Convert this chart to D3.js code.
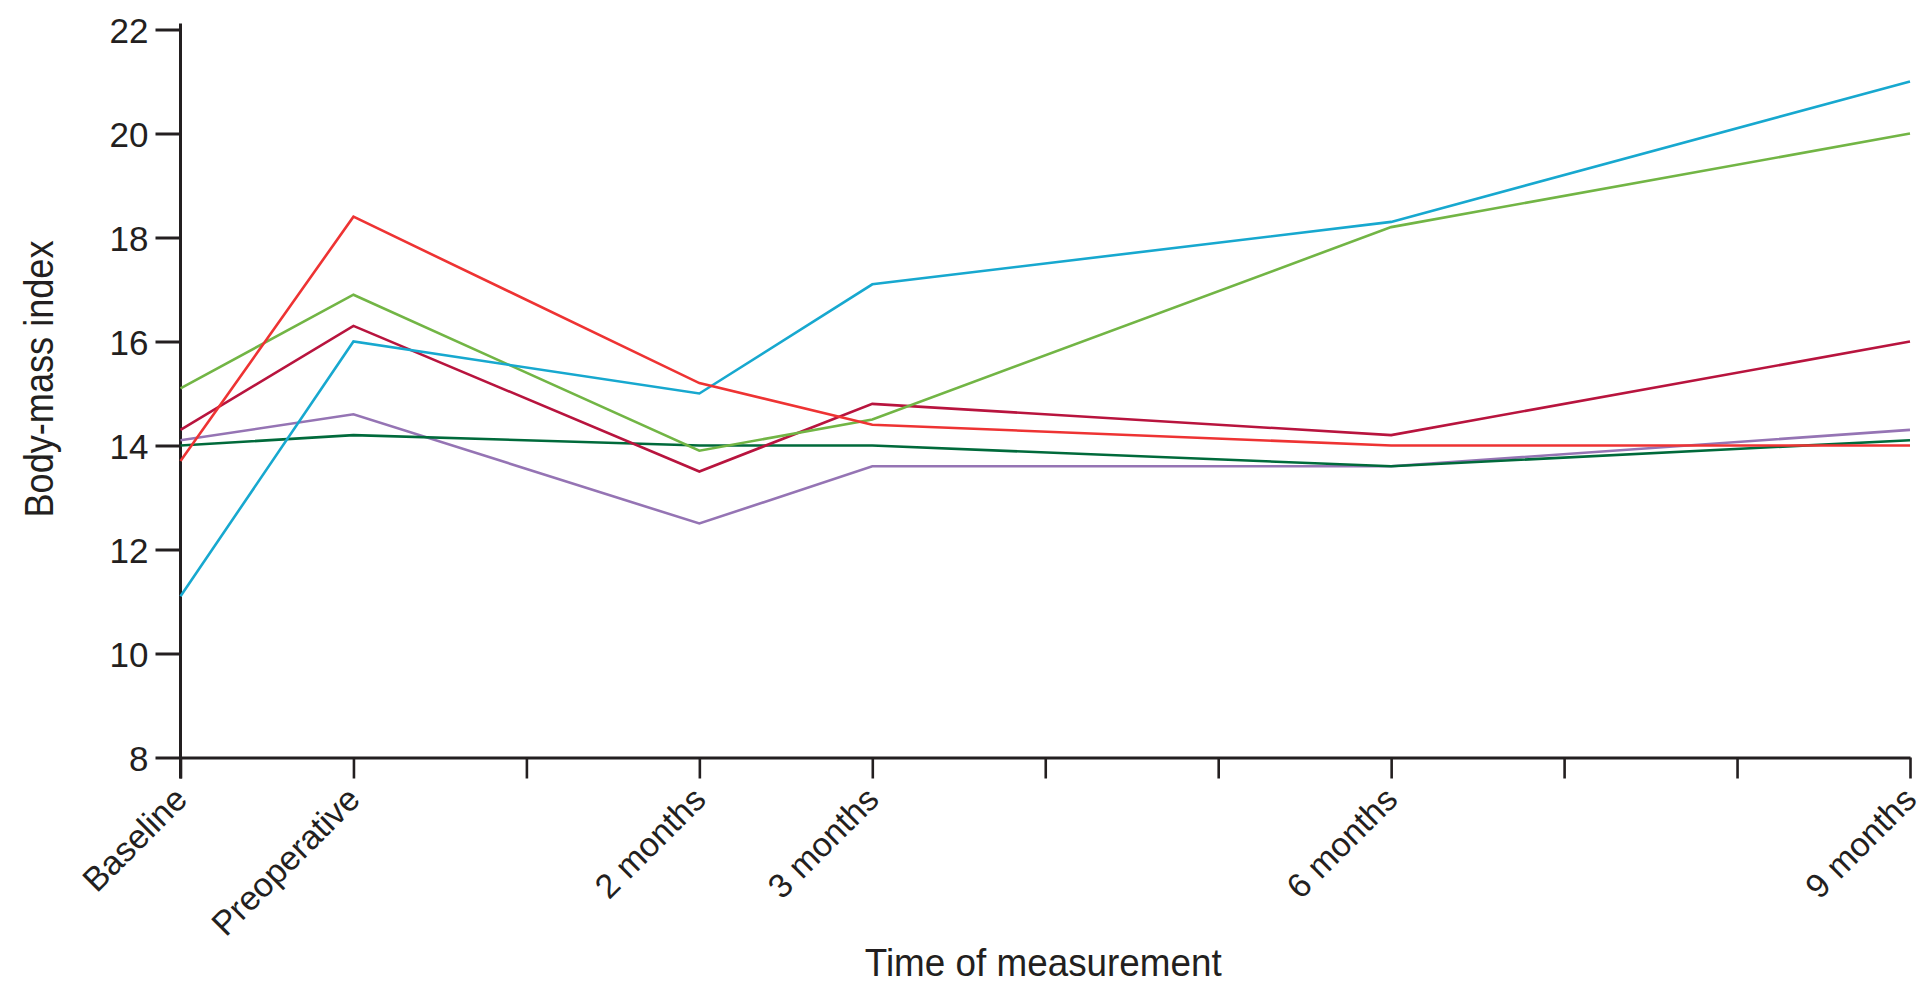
<!DOCTYPE html>
<html>
<head>
<meta charset="utf-8">
<script src="https://cdn.jsdelivr.net/npm/d3@7"></script>
<style>
  html, body { margin: 0; padding: 0; background: #ffffff; }
  svg { display: block; }
  text { font-family: "Liberation Sans", Arial, sans-serif; fill: #231f20; }
</style>
</head>
<body>
<svg id="chart" width="1927" height="985"></svg>
<script>
// ---- data ----
const categories = ["Baseline", "Preoperative", "2 months", "3 months", "6 months", "9 months"];
// position of each category on the time axis (one tick per month step)
const categoryPositions = [0, 1, 3, 4, 7, 10];
const xTicks = [0, 1, 2, 3, 4, 5, 6, 7, 8, 9, 10];
const yTicks = [8, 10, 12, 14, 16, 18, 20, 22];

const seriesCyan      = [11.1, 16.0, 15.0, 17.1, 18.3, 21.0];
const seriesLightGreen= [15.1, 16.9, 13.9, 14.5, 18.2, 20.0];
const seriesRed       = [13.7, 18.4, 15.2, 14.4, 14.0, 14.0];
const seriesCrimson   = [14.3, 16.3, 13.5, 14.8, 14.2, 16.0];
const seriesPurple    = [14.1, 14.6, 12.5, 13.6, 13.6, 14.3];
const seriesDarkGreen = [14.0, 14.2, 14.0, 14.0, 13.6, 14.1];

const series = [
  { name: "purple",    values: seriesPurple,     color: "#9574b4" },
  { name: "darkgreen", values: seriesDarkGreen,  color: "#006a3b" },
  { name: "crimson",   values: seriesCrimson,    color: "#b8143e" },
  { name: "green",     values: seriesLightGreen, color: "#72b545" },
  { name: "cyan",      values: seriesCyan,       color: "#17a8cf" },
  { name: "red",       values: seriesRed,        color: "#ee3333" }
];

// ---- layout ----
const svg = d3.select("#chart");
const mLeft = 180.5, mRight = 1910, mTop = 29.5, mBottom = 757.5;

const x = d3.scaleLinear().domain([0, 10]).range([mLeft, mRight]);
const y = d3.scaleLinear().domain([8, 22]).range([mBottom, mTop]);

const ink = "#231f20";

// y axis
const yAxis = svg.append("g")
  .attr("transform", `translate(${mLeft},0)`)
  .call(d3.axisLeft(y).tickValues(yTicks).tickSize(25).tickPadding(7).tickFormat(d3.format("d")));
yAxis.select(".domain").remove();
yAxis.selectAll(".tick line").attr("stroke", ink).attr("stroke-width", 3);
yAxis.selectAll(".tick text").attr("font-size", 35).attr("dy", "0.36em")
  .style("font-family", "'Liberation Sans', Arial, sans-serif").attr("fill", ink);
yAxis.append("line")
  .attr("x1", 0).attr("x2", 0)
  .attr("y1", y(22) - 6).attr("y2", mBottom + 21)
  .attr("stroke", ink).attr("stroke-width", 3);

// x axis
const labelFor = d => {
  const i = categoryPositions.indexOf(d);
  return i >= 0 ? categories[i] : "";
};
const xAxis = svg.append("g")
  .attr("transform", `translate(0,${mBottom})`)
  .call(d3.axisBottom(x).tickValues(xTicks).tickSize(21).tickSizeOuter(0).tickFormat(labelFor));
xAxis.select(".domain").attr("stroke", ink).attr("stroke-width", 3.2);
xAxis.selectAll(".tick line").attr("stroke", ink).attr("stroke-width", 2.6);
xAxis.selectAll(".tick text")
  .attr("font-size", 34)
  .attr("text-anchor", "end")
  .attr("x", 0).attr("y", 0).attr("dy", 0)
  .attr("transform", "translate(8,44) rotate(-45)")
  .style("font-family", "'Liberation Sans', Arial, sans-serif")
  .attr("fill", ink);

// lines
const line = d3.line()
  .x((d, i) => x(categoryPositions[i]))
  .y(d => y(d));

svg.append("g").selectAll("path")
  .data(series)
  .join("path")
  .attr("d", d => line(d.values))
  .attr("fill", "none")
  .attr("stroke", d => d.color)
  .attr("stroke-width", 2.6)
  .attr("stroke-linejoin", "miter");

// axis titles
svg.append("text")
  .attr("x", (mLeft + mRight) / 2 - 2)
  .attr("y", 976)
  .attr("text-anchor", "middle")
  .attr("font-size", 39)
  .attr("textLength", 357)
  .attr("lengthAdjust", "spacingAndGlyphs")
  .text("Time of measurement");

svg.append("text")
  .attr("transform", "translate(53,379) rotate(-90)")
  .attr("text-anchor", "middle")
  .attr("font-size", 40)
  .attr("textLength", 277)
  .attr("lengthAdjust", "spacingAndGlyphs")
  .text("Body-mass index");
</script>
</body>
</html>
